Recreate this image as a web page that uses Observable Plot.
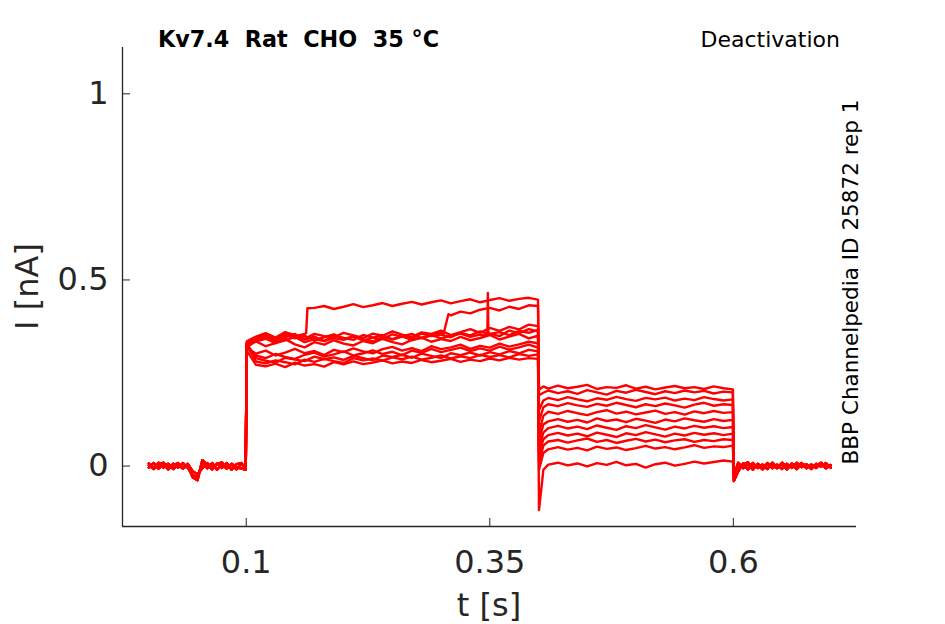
<!DOCTYPE html>
<html><head><meta charset="utf-8">
<script src="https://cdn.jsdelivr.net/npm/d3@7"></script>
<script src="https://cdn.jsdelivr.net/npm/@observablehq/plot@0.6"></script>
<style>body{margin:0;background:#fff}</style>
</head><body><div id="chart"></div>
<script>
// ---- tick values / labels ----
const xTicks = [0.1, 0.35, 0.6];
const xTickLabels = ["0.1", "0.35", "0.6"];
const yTicks = [0, 0.5, 1];
const yTickLabels = ["0", "0.5", "1"];

// ---- sample times (s) for each protocol segment ----
const tPre = [0,0.005,0.01,0.015,0.02,0.025,0.03,0.035,0.04,0.045,0.05,0.055,0.06,0.065,0.07,0.075,0.08,0.085,0.09,0.095,0.0995];
const tStep = [0.1005,0.11,0.12,0.13,0.14,0.15,0.16,0.17,0.18,0.19,0.2,0.21,0.22,0.23,0.24,0.25,0.26,0.27,0.28,0.29,0.3,0.31,0.32,0.33,0.34,0.35,0.36,0.37,0.38,0.39,0.3995];
const tTail = [0.4005,0.405,0.41,0.42,0.43,0.44,0.45,0.46,0.47,0.48,0.49,0.5,0.51,0.52,0.53,0.54,0.55,0.56,0.57,0.58,0.59,0.5995];
const tPost = [0.6005,0.605,0.61,0.615,0.62,0.625,0.63,0.635,0.64,0.645,0.65,0.655,0.66,0.665,0.67,0.675,0.68,0.685,0.69,0.695,0.7];

// ---- baseline currents (nA) before the step ----
const preA = [0.007,-0.005,0.009,-0.004,0.006,-0.008,0.004,-0.007,0.003,-0.03,-0.038,0.016,0.003,-0.009,0.007,-0.005,0.008,-0.01,0.005,0.008,-0.008];
const preB = [-0.004,0.008,-0.007,0.005,-0.009,0.006,-0.004,0.008,-0.005,-0.024,-0.03,0.009,-0.006,0.008,-0.01,0.004,-0.007,0.006,-0.004,-0.006,-0.01];
const preC = [0.002,-0.008,0.004,0.009,-0.004,0.002,0.008,-0.005,0.006,-0.014,-0.022,-0.006,0.008,-0.004,0.005,0.01,-0.003,0.004,-0.009,0.005,-0.004];

// ---- currents during the activating step (nA) ----
const step1 = [0.31,0.272,0.268,0.275,0.266,0.278,0.27,0.274,0.267,0.279,0.273,0.281,0.274,0.278,0.284,0.276,0.281,0.277,0.285,0.279,0.283,0.288,0.28,0.286,0.282,0.289,0.284,0.291,0.286,0.29,0.288];
const step2 = [0.325,0.281,0.276,0.284,0.279,0.273,0.286,0.28,0.288,0.282,0.277,0.29,0.284,0.289,0.283,0.292,0.287,0.294,0.286,0.291,0.297,0.289,0.295,0.29,0.299,0.293,0.298,0.292,0.301,0.296,0.3];
const step3 = [0.33,0.29,0.283,0.278,0.291,0.286,0.282,0.294,0.287,0.292,0.285,0.296,0.29,0.284,0.297,0.293,0.299,0.291,0.302,0.296,0.29,0.303,0.298,0.305,0.297,0.306,0.3,0.309,0.303,0.312,0.308];
const step4 = [0.322,0.297,0.29,0.301,0.293,0.288,0.299,0.305,0.294,0.3,0.308,0.297,0.303,0.311,0.301,0.307,0.298,0.31,0.304,0.315,0.306,0.312,0.318,0.309,0.316,0.31,0.321,0.313,0.319,0.326,0.318];
const step5 = [0.318,0.302,0.31,0.297,0.305,0.315,0.303,0.309,0.298,0.312,0.306,0.316,0.308,0.303,0.314,0.32,0.31,0.317,0.309,0.322,0.314,0.319,0.326,0.315,0.323,0.318,0.329,0.321,0.327,0.334,0.33];
const step6 = [0.328,0.335,0.322,0.33,0.341,0.327,0.319,0.333,0.326,0.338,0.329,0.324,0.336,0.33,0.342,0.333,0.327,0.339,0.345,0.334,0.341,0.336,0.347,0.338,0.344,0.352,0.34,0.348,0.355,0.343,0.35];
const step7 = [0.33,0.342,0.35,0.338,0.346,0.355,0.34,0.348,0.336,0.351,0.344,0.339,0.352,0.345,0.341,0.354,0.347,0.343,0.356,0.349,0.353,0.346,0.358,0.351,0.362,0.355,0.349,0.364,0.357,0.368,0.362];
const step8 = [0.335,0.348,0.357,0.345,0.36,0.352,0.342,0.355,0.349,0.346,0.358,0.351,0.344,0.356,0.35,0.362,0.353,0.347,0.359,0.355,0.364,0.352,0.36,0.368,0.358,0.371,0.363,0.374,0.367,0.38,0.376];
const stepA = [0.33,0.345,0.352,0.34,0.356,0.348,0.355,0.425,0.43,0.422,0.428,0.435,0.427,0.432,0.438,0.43,0.436,0.441,0.434,0.44,0.445,0.437,0.443,0.448,0.44,0.446,0.451,0.444,0.449,0.452,0.447];
const stepB = [0.325,0.34,0.348,0.335,0.352,0.343,0.35,0.338,0.346,0.354,0.341,0.349,0.337,0.345,0.352,0.34,0.348,0.355,0.343,0.351,0.358,0.405,0.415,0.41,0.42,0.425,0.418,0.428,0.422,0.432,0.43];
const stepC = [0.32,0.335,0.342,0.33,0.338,0.347,0.333,0.341,0.336,0.344,0.339,0.348,0.34,0.335,0.346,0.341,0.349,0.338,0.345,0.352,0.343,0.35,0.356,0.347,0.353,0.355,0.36,0.352,0.363,0.358,0.366];

// ---- abrupt jumps seen inside the step (time s, current nA) ----
const jumpA_t = [0.1615, 0.1628];
const jumpA_v = [0.357, 0.424];
const jumpB_t = [0.3025, 0.3075];
const jumpB_v = [0.355, 0.408];
const jumpC_t = [0.3475, 0.348, 0.3485];
const jumpC_v = [0.352, 0.465, 0.36];

// ---- tail currents after repolarisation (nA) ----
const tail1 = [0.205,0.214,0.208,0.216,0.209,0.213,0.218,0.207,0.212,0.21,0.217,0.208,0.213,0.206,0.211,0.215,0.209,0.212,0.207,0.214,0.209,0.206];
const tail2 = [0.19,0.197,0.203,0.196,0.201,0.194,0.204,0.198,0.192,0.202,0.197,0.205,0.199,0.193,0.201,0.196,0.203,0.198,0.202,0.195,0.2,0.198];
const tail3 = [0.15,0.176,0.183,0.177,0.185,0.179,0.174,0.182,0.178,0.186,0.18,0.175,0.183,0.179,0.184,0.176,0.181,0.177,0.185,0.18,0.176,0.179];
const tail4 = [0.12,0.158,0.166,0.161,0.169,0.163,0.159,0.167,0.162,0.17,0.164,0.158,0.166,0.161,0.168,0.163,0.157,0.165,0.17,0.162,0.166,0.164];
const tail5 = [0.09,0.135,0.146,0.14,0.148,0.142,0.137,0.145,0.15,0.141,0.146,0.139,0.144,0.149,0.14,0.145,0.138,0.147,0.142,0.148,0.143,0.145];
const tail6 = [0.07,0.112,0.12,0.126,0.119,0.124,0.117,0.128,0.121,0.125,0.118,0.127,0.122,0.116,0.125,0.12,0.128,0.123,0.119,0.126,0.121,0.124];
const tail7 = [0.05,0.09,0.102,0.108,0.101,0.106,0.099,0.109,0.103,0.097,0.107,0.102,0.11,0.104,0.098,0.106,0.101,0.108,0.103,0.107,0.102,0.105];
const tail8 = [0.03,0.072,0.083,0.089,0.082,0.087,0.08,0.09,0.084,0.078,0.088,0.083,0.091,0.085,0.079,0.087,0.082,0.089,0.084,0.088,0.083,0.087];
const tail9 = [0.01,0.055,0.066,0.07,0.063,0.069,0.074,0.065,0.07,0.062,0.068,0.073,0.066,0.071,0.064,0.069,0.072,0.065,0.07,0.067,0.072,0.07];
const tail10 = [-0.01,0.035,0.045,0.051,0.044,0.049,0.042,0.052,0.046,0.05,0.043,0.048,0.054,0.047,0.051,0.045,0.05,0.056,0.049,0.053,0.051,0.055];
const tail11 = [-0.118,-0.01,0.004,0.009,0.002,0.007,-0.001,0.008,0.003,0.011,0.002,0.006,-0.004,0.005,0.009,0.001,0.006,0.012,0.007,0.011,0.015,0.012];

// ---- baseline currents after the tail (nA) ----
const postA = [-0.04,-0.014,0.007,-0.009,0.008,-0.005,0.004,-0.008,0.009,-0.004,0.005,-0.009,0.007,-0.002,0.008,-0.006,0.004,-0.005,0.009,-0.004,0.002];
const postB = [-0.025,0.009,-0.006,0.005,-0.01,0.006,-0.004,0.008,-0.006,0.004,-0.008,0.006,-0.005,0.009,-0.003,0.005,-0.008,0.006,-0.002,0.008,-0.005];
const postC = [-0.015,-0.006,0.004,0.01,-0.004,0.002,-0.009,0.005,0.002,-0.006,0.009,-0.002,0.004,-0.008,0.005,0.002,-0.005,0.004,0.007,-0.006,0.003];

// ---- sweeps ----
const sweeps = [
  {name: "s1",  pre: preA, step: stepA, jt: jumpA_t, jv: jumpA_v, tail: tail1,  post: postA},
  {name: "s2",  pre: preB, step: stepB, jt: jumpB_t, jv: jumpB_v, tail: tail2,  post: postB},
  {name: "s3",  pre: preC, step: stepC, jt: jumpC_t, jv: jumpC_v, tail: tail3,  post: postC},
  {name: "s4",  pre: preA, step: step8, tail: tail4,  post: postB},
  {name: "s5",  pre: preB, step: step7, tail: tail5,  post: postC},
  {name: "s6",  pre: preC, step: step6, tail: tail6,  post: postA},
  {name: "s7",  pre: preA, step: step5, tail: tail7,  post: postC},
  {name: "s8",  pre: preB, step: step4, tail: tail8,  post: postA},
  {name: "s9",  pre: preC, step: step3, tail: tail9,  post: postB},
  {name: "s10", pre: preA, step: step2, tail: tail10, post: postC},
  {name: "s11", pre: preB, step: step1, tail: tail11, post: postA}
];

const rows = [];
sweeps.forEach(sw => {
  const segs = [[tPre, sw.pre], [tStep, sw.step], [tTail, sw.tail], [tPost, sw.post]];
  if (sw.jt) segs.push([sw.jt, sw.jv]);
  const pts = [];
  for (const [ts, vs] of segs) {
    const n = Math.min(ts.length, vs.length);
    for (let k = 0; k < n; k++) pts.push({sweep: sw.name, t: ts[k], v: vs[k]});
  }
  pts.sort((a, b) => a.t - b.t);
  rows.push(...pts);
});

const xDomain = [-0.027, 0.7264];
const yDomain = [-0.1624, 1.1245];
const ink = "#262626";
const font = "DejaVu Sans";

const chart = Plot.plot({
  width: 945,
  height: 624,
  marginLeft: 122,
  marginRight: 89,
  marginTop: 47,
  marginBottom: 98,
  style: {fontFamily: font, background: "#fff", color: ink, overflow: "visible"},
  x: {domain: xDomain, axis: null},
  y: {domain: yDomain, axis: null},
  marks: [
    Plot.line(rows, {x: "t", y: "v", z: "sweep", stroke: "#ff0000", strokeWidth: 2.4, strokeLinejoin: "round"}),
    Plot.ruleX([xDomain[0]], {stroke: ink, strokeWidth: 1.3}),
    Plot.ruleY([yDomain[0]], {stroke: ink, strokeWidth: 1.3}),
    Plot.axisX(xTicks, {anchor: "bottom", tickSize: 8, tickPadding: 16, fontSize: 32,
      tickFormat: d => xTickLabels[xTicks.indexOf(d)], label: null}),
    Plot.axisY(yTicks, {anchor: "left", tickSize: 8, tickPadding: 6, fontSize: 32,
      tickFormat: d => yTickLabels[yTicks.indexOf(d)], label: null})
  ]
});

document.getElementById("chart").appendChild(chart);

const svg = d3.select(chart);
// MATLAB-style inward ticks
svg.selectAll('[aria-label="x-axis tick"] path').attr("d", "M0,0L0,-8");
svg.selectAll('[aria-label="y-axis tick"] path').attr("d", "M0,0L8,0");

function addText(str, opts) {
  return svg.append("text")
    .attr("fill", opts.fill || ink)
    .attr("font-family", font)
    .attr("font-size", opts.size)
    .attr("font-weight", opts.weight || "normal")
    .attr("text-anchor", opts.anchor || "start")
    .style("white-space", "pre")
    .attr("transform", opts.transform)
    .text(str);
}
addText("Kv7.4  Rat  CHO  35 °C", {size: 22.3, weight: "bold", fill: "#000", transform: "translate(158,46.5)"});
addText("Deactivation", {size: 22, fill: "#000", anchor: "end", transform: "translate(840,46.5)"});
addText("t [s]", {size: 32, anchor: "middle", transform: "translate(489,616)"});
addText("I [nA]", {size: 32, anchor: "middle", transform: "translate(37.5,286.5) rotate(-90)"});
addText("BBP Channelpedia ID 25872 rep 1", {size: 21.5, fill: "#000", anchor: "middle", transform: "translate(857.7,282) rotate(-90)"});
</script>
</body></html>
